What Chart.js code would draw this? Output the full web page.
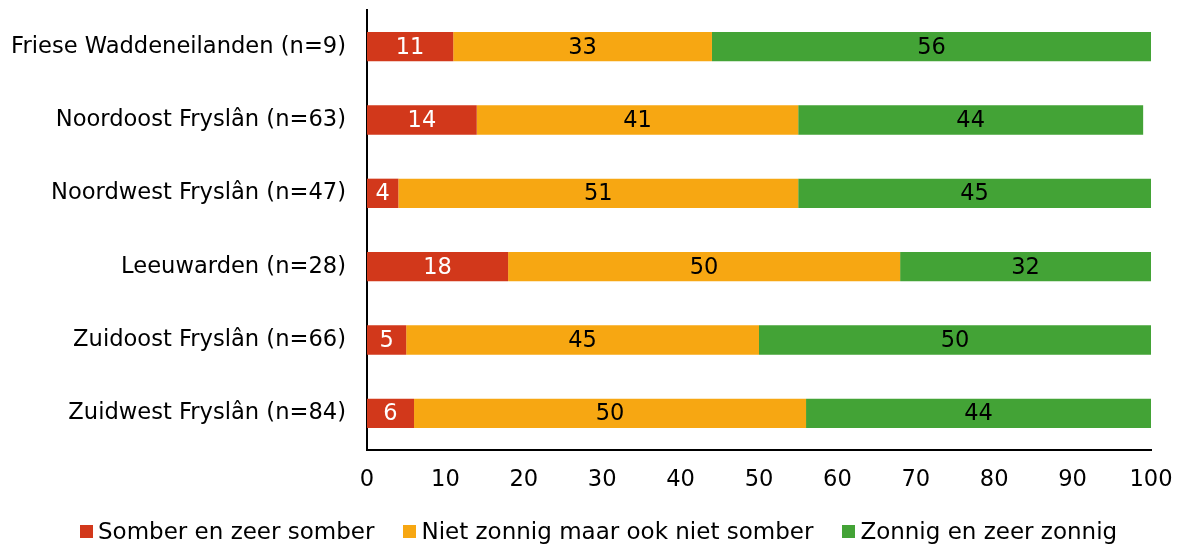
<!DOCTYPE html>
<html lang="nl">
<head>
    <meta charset="UTF-8">
    <title>Somber / zonnig per regio</title>
    <script src="https://cdn.jsdelivr.net/npm/chart.js"></script>
    <style>
        body { margin: 0; padding: 0; background: #fff; }
        #wrap { position: relative; width: 1180px; height: 545px; }
        #legend {
            position: absolute;
            left: 80px;
            top: 517px;
            display: flex;
            font-family: 'DejaVu Sans', sans-serif;
            font-size: 23px;
            line-height: 28px;
            color: #000;
            white-space: nowrap;
        }
        #legend span.item { display: flex; align-items: center; margin-right: 29px; }
        #legend span.box { width: 13px; height: 13px; margin-right: 5px; }
    </style>
</head>
<body>

<div id="wrap">
    <canvas id="regioChart" width="1180" height="545"></canvas>
    <div id="legend"></div>
</div>

<script>
    const regios = [
        'Friese Waddeneilanden (n=9)',
        'Noordoost Fryslân (n=63)',
        'Noordwest Fryslân (n=47)',
        'Leeuwarden (n=28)',
        'Zuidoost Fryslân (n=66)',
        'Zuidwest Fryslân (n=84)'
    ];
    const somber = [11, 14, 4, 18, 5, 6];
    const neutraal = [33, 41, 51, 50, 45, 50];
    const zonnig = [56, 44, 45, 32, 50, 44];

    const FONT = 'DejaVu Sans';

    // labels in het midden van elk balkdeel
    const barLabels = {
        id: 'barLabels',
        afterDatasetsDraw(chart) {
            const ctx = chart.ctx;
            ctx.save();
            ctx.font = '22.5px "' + FONT + '"';
            ctx.textAlign = 'center';
            ctx.textBaseline = 'middle';
            chart.data.datasets.forEach((ds, i) => {
                const meta = chart.getDatasetMeta(i);
                meta.data.forEach((bar, j) => {
                    const cx = (bar.x + bar.base) / 2;
                    ctx.fillStyle = i === 0 ? '#ffffff' : '#000000';
                    ctx.fillText(String(ds.data[j]), cx, bar.y + 1);
                });
            });
            ctx.restore();
        }
    };

    const chart = new Chart(document.getElementById('regioChart'), {
        type: 'bar',
        data: {
            labels: regios,
            datasets: [
                { label: 'Somber en zeer somber', data: somber, backgroundColor: '#d2381b' },
                { label: 'Niet zonnig maar ook niet somber', data: neutraal, backgroundColor: '#f7a712' },
                { label: 'Zonnig en zeer zonnig', data: zonnig, backgroundColor: '#43a336' }
            ]
        },
        options: {
            indexAxis: 'y',
            responsive: false,
            animation: false,
            layout: { padding: { top: 10, right: 29, left: 0, bottom: 0 } },
            datasets: { bar: { barPercentage: 0.8, categoryPercentage: 0.5 } },
            scales: {
                x: {
                    stacked: true,
                    min: 0,
                    max: 100,
                    ticks: { stepSize: 10, color: '#000', font: { family: FONT, size: 22.6 }, padding: 17 },
                    grid: { display: false, drawTicks: false },
                    border: { display: true, color: '#000', width: 2 },
                    afterFit(scale) { scale.height = 95; scale.paddingRight = 0; scale.paddingLeft = 0; }
                },
                y: {
                    stacked: true,
                    ticks: { color: '#000', font: { family: FONT, size: 22.6 }, padding: 21 },
                    grid: { display: false, drawTicks: false },
                    border: { display: true, color: '#000', width: 2 },
                    afterFit(scale) { scale.width = 367; scale.paddingTop = 0; scale.paddingBottom = 0; }
                }
            },
            plugins: {
                legend: { display: false },
                tooltip: { enabled: false }
            }
        },
        plugins: [barLabels]
    });

    // legenda onder de grafiek
    const legend = document.getElementById('legend');
    chart.data.datasets.forEach(ds => {
        const item = document.createElement('span');
        item.className = 'item';
        const box = document.createElement('span');
        box.className = 'box';
        box.style.background = ds.backgroundColor;
        item.appendChild(box);
        item.appendChild(document.createTextNode(ds.label));
        legend.appendChild(item);
    });
</script>

</body>
</html>
